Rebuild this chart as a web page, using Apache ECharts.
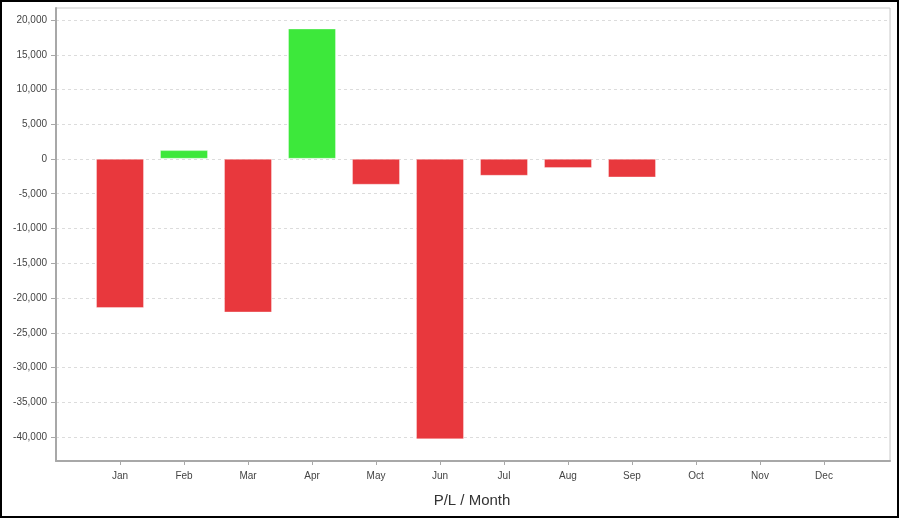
<!DOCTYPE html>
<html><head><meta charset="utf-8">
<script src="https://cdn.jsdelivr.net/npm/echarts@6/dist/echarts.min.js"></script>
<style>html,body{margin:0;padding:0;background:#fff}#c{width:900px;height:519px}</style>
</head><body><div id="c"></div>
<script>
const months = ['Jan','Feb','Mar','Apr','May','Jun','Jul','Aug','Sep','Oct','Nov','Dec'];
const pl = [-21500, 1250, -22150, 18780, -3740, -40430, -2450, -1340, -2690, null, null, null];
const yTickMin = -40000, yTickMax = 20000, yTickStep = 5000;
const yRangeMin = -43550, yRangeMax = 21730;
const axisTitle = 'P/L / Month';

const RED = '#e8383d', GREEN = '#3de83b';
const fmt = v => v.toLocaleString('en-US');
const chart = echarts.init(document.getElementById('c'));
chart.setOption({
  animation: false,
  textStyle: {fontFamily: 'Liberation Sans, Arial, sans-serif'},
  grid: [
    {left: 56, right: 10, top: 20, bottom: 82},
    {left: 56, right: 10, top: 8, bottom: 58, show: true, borderColor: '#c8c8c8', borderWidth: 1},
    {left: 88, right: 44, top: 8, bottom: 58}
  ],
  xAxis: [
    {gridIndex: 0, type: 'value', show: false},
    {gridIndex: 1, type: 'value', min: 0, max: 1, axisLine: {show: true, onZero: false, lineStyle: {color: '#a8a8a8', width: 2}}, axisLabel: {show: false}, axisTick: {show: false}, splitLine: {show: false}},
    {gridIndex: 2, type: 'category', data: months, boundaryGap: true, position: 'bottom',
     axisLine: {show: false, onZero: false}, axisTick: {show: true, alignWithLabel: true, length: 4, lineStyle: {color: '#a8a8a8'}},
     axisLabel: {color: '#444', fontSize: 10, margin: 10},
     name: axisTitle, nameLocation: 'middle', nameGap: 32,
     nameTextStyle: {fontSize: 15, color: '#333'}}
  ],
  yAxis: [
    {gridIndex: 0, type: 'value', min: yTickMin, max: yTickMax, interval: yTickStep,
     axisLine: {show: false}, axisTick: {show: true, length: 5, lineStyle: {color: '#a8a8a8'}},
     axisLabel: {color: '#444', fontSize: 10, margin: 9, formatter: fmt},
     splitLine: {show: true, lineStyle: {color: '#dcdcdc', type: [3, 3]}}},
    {gridIndex: 1, type: 'value', min: 0, max: 1, axisLine: {show: true, lineStyle: {color: '#a8a8a8', width: 2}}, axisLabel: {show: false}, axisTick: {show: false}, splitLine: {show: false}},
    {gridIndex: 2, type: 'value', min: yRangeMin, max: yRangeMax, show: false, splitLine: {show: false}}
  ],
  series: [{
    type: 'bar', xAxisIndex: 2, yAxisIndex: 2, barWidth: 48,
    data: pl.map(v => v === null ? null : {value: v, itemStyle: {color: v >= 0 ? GREEN : RED}}),
    itemStyle: {borderColor: 'rgba(255,255,255,0.35)', borderWidth: 1}
  }],
  graphic: [{type: 'rect', shape: {x: 1, y: 1, width: 897, height: 516}, style: {fill: null, stroke: '#000', lineWidth: 2}, silent: true, z: 100}]
});
</script></body></html>
